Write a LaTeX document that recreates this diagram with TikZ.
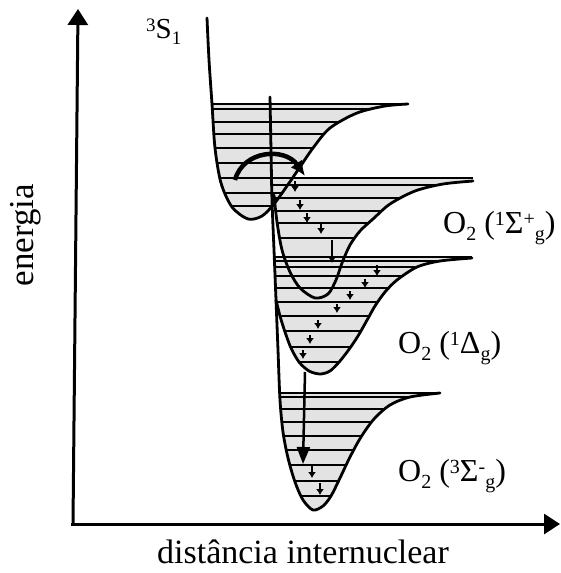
\documentclass[tikz,border=0pt]{standalone}
\usepackage{fontspec}
\setmainfont{Liberation Serif}
\usetikzlibrary{arrows.meta}
\newcommand\hix[1]{\raisebox{8pt}{\fontsize{20}{20}\selectfont #1}}
\newcommand\lox[1]{\raisebox{-7pt}{\fontsize{20}{20}\selectfont #1}}
\newcommand\hiy[1]{\raisebox{7pt}{\fontsize{19}{19}\selectfont #1}}
\newcommand\loy[1]{\raisebox{-6pt}{\fontsize{19}{19}\selectfont #1}}
\def\WA{(207,18) (209,60) (212,104) (215,148) (221,183) (232,207) (248,219) (262,216) (274,204) (287,186) (300,167) (313,148) (330,128) (357,113) (385,106) (408,104)}
\def\WB{(274,195) (277,222) (282,250) (290,272) (300,288) (315,298) (328,294) (336,280) (342,263) (350,245) (360,231) (373,219) (390,204) (415,191) (443,184) (473,181)}
\def\WC{(276,300) (280,316) (285,332) (291,348) (299,362) (309,371) (320,374) (330,371) (340,361) (350,348) (358,336) (366,322) (375,306) (385,292) (397,280) (417,267) (440,261) (472,258)}
\def\WD{(270,97) (271,150) (272,200) (274,250) (276,300) (278,350) (280,400) (283,432) (288,458) (295,482) (303,500) (313,510) (323,506) (331,496) (340,478) (350,457) (361,437) (374,419) (390,405) (410,397) (440,393)}
\begin{document}
\begin{tikzpicture}[x=1pt,y=-1pt,
  curve/.style={line width=2.8pt,line join=round,line cap=round},
  level/.style={line width=1.8pt},
  wellfill/.style={fill=black!11},
  axis/.style={line width=3pt,-{Triangle[length=16pt,width=20pt]}},
  relax/.style={line width=1.6pt,-{Latex[length=6pt,width=8pt]}},
  lab/.style={anchor=base west,inner sep=0pt,font=\fontsize{32}{32}\selectfont}]
\useasboundingbox (0,0) rectangle (561,573);
% fills
\begin{scope}
  \clip (0,104) rectangle (561,600);
  \clip plot[smooth] coordinates {\WA} -- cycle;
  \fill[wellfill] (0,0) rectangle (561,600);
\end{scope}
\begin{scope}
  \clip (272,178) -- (274,195) -- plot[smooth] coordinates {\WB} -- (473,178) -- cycle;
  \fill[wellfill] (0,0) rectangle (561,600);
\end{scope}
\begin{scope}
  \clip (274,257) -- (276,300) -- plot[smooth] coordinates {\WC} -- (472,257) -- cycle;
  \fill[wellfill] (0,0) rectangle (561,600);
\end{scope}
\begin{scope}
  \clip (0,393) rectangle (561,600);
  \clip plot[smooth] coordinates {\WD} -- cycle;
  \fill[wellfill] (0,0) rectangle (561,600);
\end{scope}
% levels
\begin{scope}
  \clip (0,104) rectangle (561,600);
  \clip plot[smooth] coordinates {\WA} -- cycle;
  \foreach \y in {109,122,134,148,163,178,193,206} \draw[level] (150,\y) -- (450,\y);
\end{scope}
\begin{scope}
  \clip (272,178) -- (274,195) -- plot[smooth] coordinates {\WB} -- (473,178) -- cycle;
  \foreach \y in {185,198,211,223,238} \draw[level] (250,\y) -- (500,\y);
\end{scope}
\begin{scope}
  \clip (274,257) -- (276,300) -- plot[smooth] coordinates {\WC} -- (472,257) -- cycle;
  \foreach \y in {261,267,276,288,302,316,331,347,362} \draw[level] (250,\y) -- (500,\y);
\end{scope}
\begin{scope}
  \clip (0,393) rectangle (561,600);
  \clip plot[smooth] coordinates {\WD} -- cycle;
  \foreach \y in {397,409,422,436,450,465,481,496} \draw[level] (250,\y) -- (500,\y);
\end{scope}
\draw[level] (212,104) -- (408,104);
\draw[level] (272,178) -- (473,178);
\draw[level] (274,257) -- (472,257);
\draw[level] (280,393) -- (440,393);
% curves
\draw[curve] plot[smooth] coordinates {\WA};
\draw[curve] plot[smooth] coordinates {\WB};
\draw[curve] plot[smooth] coordinates {\WC};
\draw[curve] plot[smooth] coordinates {\WD};
% relaxation arrows
\foreach \i/\x/\ya/\yb in {1/295/181/192,2/300/200/210,3/307/213/223,4/321/224/234,5/332/240/263,
  6/377/265/276,7/365/279/288,8/350/291/300,9/337/304/313,10/318/320/329,11/310/335/344,12/303/350/359,
  13/312/466/478,14/320/483/495}{
  \coordinate (r\i a) at (\x,\ya);
  \coordinate (r\i b) at (\x,\yb);
  \draw[relax] (r\i a) -- (r\i b);
}
% big transition arrow
\coordinate (pa) at (305,372);
\coordinate (pb) at (303,464);
\draw[line width=2.5pt,-{Triangle[length=17pt,width=13pt]}] (pa) -- (pb);
% energy transfer arc
\coordinate (ta) at (235,180);
\coordinate (tb) at (305,176);
\draw[line width=4.5pt,-{Latex[length=15pt,width=14pt]}] (ta) .. controls (243,150) and (285,147) .. (tb);
% axes
\coordinate (org) at (73,524);
\coordinate (ytop) at (78,9);
\coordinate (xend) at (560,524);
\draw[axis] (org) -- (ytop);
\draw[axis] (71,524) -- (xend);
% labels
\node[anchor=base,inner sep=0pt,rotate=90,font=\fontsize{35}{35}\selectfont] (ylab) at (33,235) {energia};
\node[anchor=base,inner sep=0pt,font=\fontsize{34}{34}\selectfont] (xlab) at (303,563) {distância internuclear};
\node[anchor=base west,inner sep=0pt,font=\fontsize{29}{29}\selectfont] (s1) at (146,38) {\hiy{3}S\loy{1}};
\node[lab] (sp) at (443,233) {O\lox{2} (\hix{1}Σ\hix{+}\lox{g})};
\node[lab] (dg) at (398,353) {O\lox{2} (\hix{1}Δ\lox{g})};
\node[lab] (sm) at (398,481) {O\lox{2} (\hix{3}Σ\hix{-}\lox{g})};
\end{tikzpicture}
\end{document}
